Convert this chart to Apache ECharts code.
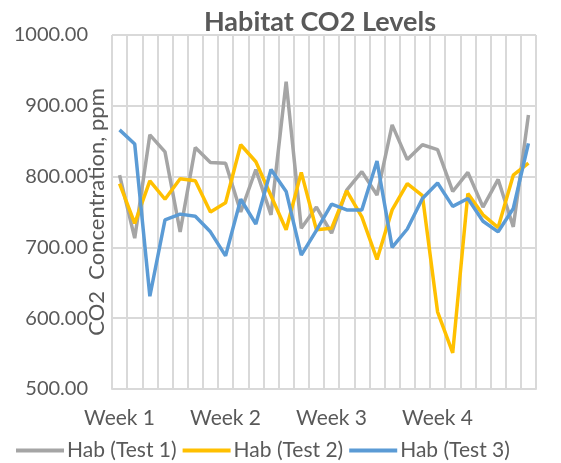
<!DOCTYPE html>
<html>
<head>
<meta charset="utf-8">
<script src="https://cdn.jsdelivr.net/npm/echarts@6/dist/echarts.min.js"></script>
<style>html,body{margin:0;padding:0;background:#fff;}#c{width:561px;height:463px;}</style>
</head>
<body>
<div id="c"></div>
<script>
var categories = ['Week 1','','','','','','','Week 2','','','','','','','Week 3','','','','','','','Week 4','','','','','',''];
var test1 = [802,713,859,835,722,841,820,819,750,810,746,934,727,757,720,781,807,774,873,824,845,838,779,806,757,796,729,887];
var test2 = [790,734,794,768,797,794,750,763,845,821,773,725,806,725,727,780,743,683,753,790,773,609,551,776,746,728,802,819];
var test3 = [866,846,631,739,747,744,722,688,768,733,810,779,689,724,761,753,753,822,700,726,769,791,758,769,737,722,755,847];
var yTicks = {min:500, max:1000, interval:100};

var FONT = 'Lato';
var TXT = '#595959';
var chart = echarts.init(document.getElementById('c'));
function mk(name, data, color){
  return {name:name, type:'line', data:data, symbol:'none', smooth:false,
    lineStyle:{color:color, width:3.5}, itemStyle:{color:color}};
}
chart.setOption({
  animation:false,
  title:{text:'Habitat CO2 Levels', left:315, textAlign:'center', top:4,
    textStyle:{fontFamily:FONT, fontSize:27, fontWeight:'bold', color:TXT}},
  grid:{left:112, right:25, top:35, bottom:74, containLabel:false, outerBoundsMode:'none'},
  legend:{top:440, left:16, itemWidth:48, itemHeight:4, itemGap:6, padding:0,
    icon:'rect',
    textStyle:{fontFamily:FONT, fontSize:21, color:TXT, padding:[0,0,0,-2]},
    data:['Hab (Test 1)','Hab (Test 2)','Hab (Test 3)']},
  xAxis:{type:'category', data:categories, boundaryGap:true,
    axisLine:{show:true, lineStyle:{color:'#D9D9D9', width:2}},
    axisTick:{show:false},
    splitLine:{show:true, interval:0, lineStyle:{color:'#D9D9D9', width:2}},
    axisLabel:{interval:0, fontFamily:FONT, fontSize:21, color:TXT, margin:19}},
  yAxis:{type:'value', min:yTicks.min, max:yTicks.max, interval:yTicks.interval,
    name:'CO2  Concentration, ppm', nameLocation:'middle', nameGap:4, nameRotate:90,
    nameMoveOverlap:false,
    nameTextStyle:{fontFamily:FONT, fontSize:22, color:TXT, verticalAlign:'bottom'},
    axisLine:{show:false}, axisTick:{show:false},
    splitLine:{show:true, lineStyle:{color:'#D9D9D9', width:2}},
    axisLabel:{fontFamily:FONT, fontSize:20, color:TXT, margin:24,
      formatter:function(v){return v.toFixed(2);}}},
  series:[mk('Hab (Test 1)', test1, '#A5A5A5'), mk('Hab (Test 2)', test2, '#FFC000'), mk('Hab (Test 3)', test3, '#5B9BD5')]
});
</script>
</body>
</html>
